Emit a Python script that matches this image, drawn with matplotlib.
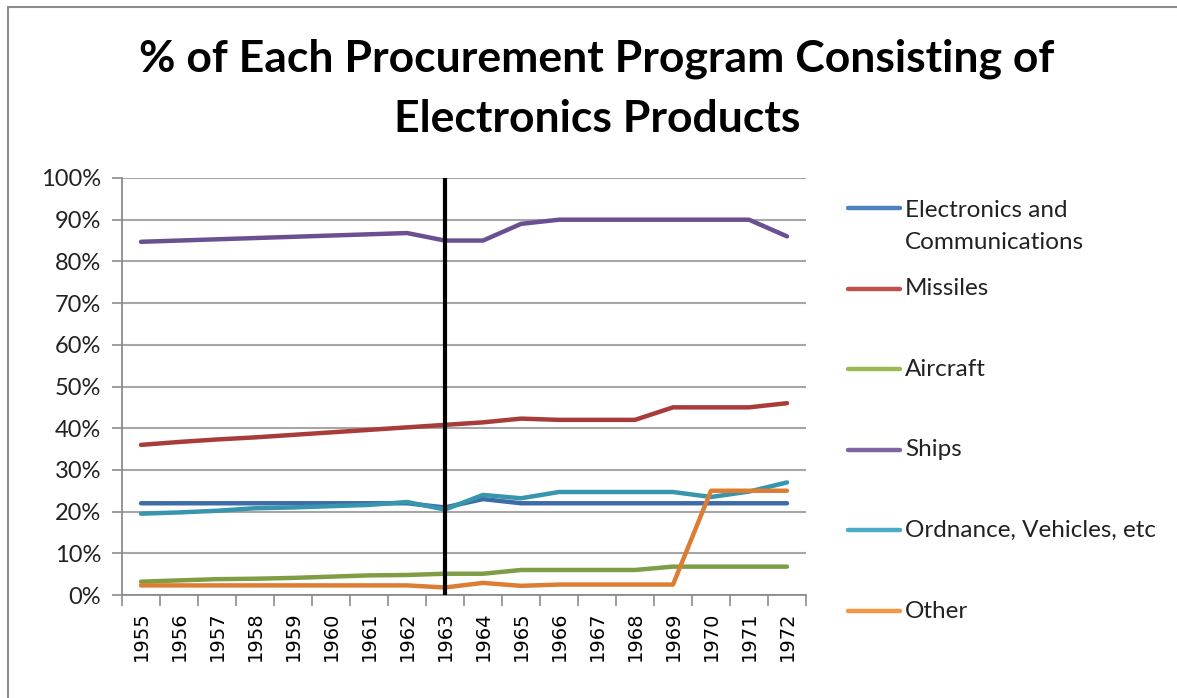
import matplotlib
matplotlib.use('Agg')
import matplotlib.pyplot as plt
from matplotlib.lines import Line2D
from matplotlib.patches import Rectangle
from matplotlib.ticker import FixedLocator, PercentFormatter

years = [str(y) for y in range(1955, 1973)]

electronics = [22, 22, 22, 22, 22, 22, 22, 22, 21, 23, 22, 22, 22, 22, 22, 22, 22, 22]
missiles = [36, 36.7, 37.3, 37.8, 38.4, 39, 39.6, 40.2, 40.8, 41.4, 42.3, 42, 42, 42, 45, 45, 45, 46]
aircraft = [3.2, 3.5, 3.8, 3.9, 4.1, 4.4, 4.7, 4.8, 5.1, 5.1, 6, 6, 6, 6, 6.8, 6.8, 6.8, 6.8]
ships = [84.7, 85, 85.3, 85.6, 85.9, 86.2, 86.5, 86.8, 85, 85, 89, 90, 90, 90, 90, 90, 90, 86]
ordnance = [19.5, 19.8, 20.2, 20.8, 21, 21.3, 21.6, 22.3, 20.5, 24, 23.2, 24.7, 24.7, 24.7, 24.7, 23.5, 24.8, 27]
other = [2.3, 2.3, 2.3, 2.3, 2.3, 2.3, 2.3, 2.3, 1.8, 2.9, 2.2, 2.5, 2.5, 2.5, 2.5, 25, 25, 25]

labels = ['Electronics and\nCommunications', 'Missiles', 'Aircraft', 'Ships',
          'Ordnance, Vehicles, etc', 'Other']
series = [electronics, missiles, aircraft, ships, ordnance, other]
line_colors = ['#3D6CA8', '#A83C3A', '#7E9D45', '#6A5090', '#3795AE', '#DD7D34']
legend_colors = ['#4F81BD', '#C0504D', '#9BBB59', '#8064A2', '#4BACC6', '#F79646']
marker_year = '1963'

plt.rcParams['font.family'] = ['Lato', 'DejaVu Sans']

fig = plt.figure(figsize=(11.77, 6.98), dpi=100)
fig.patches.append(Rectangle((8 / 1177, -0.01), 1.02, 698 / 698, transform=fig.transFigure,
                             fill=False, edgecolor='#8C8C8C', linewidth=1.5))

ax = fig.add_axes([122 / 1177, 103 / 698, 684 / 1177, 417 / 698])
x = list(range(len(years)))

for vals, c in zip(series, line_colors):
    ax.plot(x, vals, color=c, linewidth=3.2, solid_capstyle='round', zorder=3)

xi = years.index(marker_year)
ax.axvline(xi, color='black', linewidth=3, zorder=4)

ax.set_xlim(-0.5, len(years) - 0.5)
ax.set_ylim(0, 100)
ax.set_yticks(range(0, 101, 10))
ax.yaxis.set_major_formatter(PercentFormatter(decimals=0))
ax.set_xticks(x)
ax.set_xticklabels(years, rotation=90, family='DejaVu Sans', fontsize=14)
ax.xaxis.set_minor_locator(FixedLocator([i - 0.5 for i in range(len(years) + 1)]))
ax.tick_params(axis='x', which='major', length=0, pad=12)
ax.tick_params(axis='x', which='minor', length=8, color='#8C8C8C', width=1.2)
ax.tick_params(axis='y', length=7, color='#8C8C8C', width=1.2, labelsize=17, pad=8, labelcolor='#222222')
ax.grid(axis='y', color='#A6A6A6', linewidth=1.5, zorder=1)
for s in ['top', 'right']:
    ax.spines[s].set_visible(False)
for s in ['left', 'bottom']:
    ax.spines[s].set_color('#8C8C8C')
    ax.spines[s].set_linewidth(1.3)

fig.text(597 / 1177, 1 - 89 / 698, '% of Each Procurement Program Consisting of\nElectronics Products',
         ha='center', va='center', fontsize=32, fontweight='bold', linespacing=1.6)

# legend on the right
for i, (lab, c) in enumerate(zip(labels, legend_colors)):
    yy = 1 - (208 + i * 80.6) / 698
    fig.add_artist(Line2D([848 / 1177, 900 / 1177], [yy, yy], transform=fig.transFigure,
                          color=c, linewidth=3.2, solid_capstyle='round'))
    if '\n' in lab:
        fig.text(905 / 1177, yy + 8 / 698, lab, fontsize=17.5, va='top',
                 color='#222222', linespacing=1.65)
    else:
        fig.text(905 / 1177, yy, lab, fontsize=17.5, va='center', color='#222222')

fig.savefig('out.png', dpi=100)
